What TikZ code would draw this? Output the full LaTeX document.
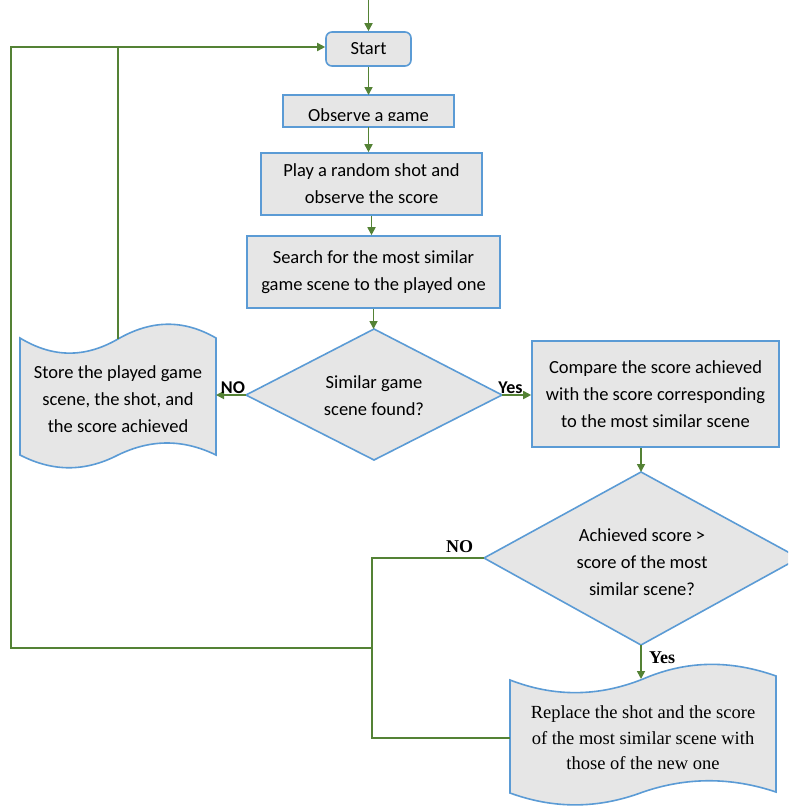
\documentclass[tikz,border=0pt]{standalone}
\usepackage{fontspec}
\setmainfont{Carlito}
\newfontfamily\serifrm{Liberation Serif}
\usetikzlibrary{arrows.meta}
\definecolor{boxfill}{HTML}{E6E6E6}
\definecolor{boxline}{HTML}{5B9BD5}
\definecolor{flow}{HTML}{548235}
\begin{document}
\begin{tikzpicture}[x=1pt,y=-1pt,
  box/.style={draw=boxline, fill=boxfill, line width=1.6pt},
  conn/.style={draw=flow, line width=1.7pt},
  arr/.style={conn, -{Triangle[length=8pt,width=8pt]}},
  txt/.style={align=center, font=\fontsize{18.5}{27}\selectfont, inner sep=0pt},
  stxt/.style={align=center, font=\serifrm\fontsize{18.5}{25.5}\selectfont, inner sep=0pt},
  rect/.style={box, inner sep=0pt, align=center, font=\fontsize{18.5}{27}\selectfont},
  lblsans/.style={font=\bfseries\fontsize{18}{20}\selectfont, inner sep=0pt},
  lblserif/.style={font=\serifrm\bfseries\fontsize{18}{20}\selectfont, inner sep=0pt}]
\useasboundingbox (0,0) rectangle (788,808);
\begin{scope}
\clip (0,0) rectangle (788,808);
% boxes
\node[rect, rounded corners=6pt, minimum width=85pt, minimum height=34pt] (start) at (368.5,49) {Start};
\node[fill=boxfill, draw=none, inner sep=0pt, outer sep=0pt, minimum width=171pt, minimum height=32pt] (obs) at (368.5,111) {};
\begin{scope}
\clip (obs.north west) rectangle ([yshift=6.7pt]obs.south east);
\node[txt, anchor=base] (obstext) at (368.5,121) {Observe a game};
\end{scope}
\draw[boxline, line width=1.6pt] (obs.north west) rectangle (obs.south east);
\node[rect, minimum width=221pt, minimum height=62pt] (play) at (371.5,184) {Play a random shot and\\observe the score};
\node[rect, minimum width=253pt, minimum height=72pt] (search) at (373.5,272) {Search for the most similar\\game scene to the played one};
\node[rect, minimum width=247pt, minimum height=106pt] (cmp) at (655.5,394) {Compare the score achieved\\with the score corresponding\\to the most similar scene};
% diamond 1
\coordinate (d1t) at (374,329);
\coordinate (d1b) at (374,460);
\coordinate (d1l) at (246,395);
\coordinate (d1r) at (502,395);
\path[box] (d1t) -- (d1r) -- (d1b) -- (d1l) -- cycle;
\node[txt] (d1text) at (374,396) {Similar game\\scene found?};
% diamond 2
\coordinate (d2t) at (641,472);
\coordinate (d2b) at (641,645);
\coordinate (d2l) at (484,558);
\coordinate (d2r) at (799,558);
\path[box] (d2t) -- (d2r) -- (d2b) -- (d2l) -- cycle;
\node[txt] (d2text) at (642,562) {Achieved score >\\score of the most\\similar scene?};
% store document
\path[box] (20,338) .. controls (53,358) and (85,358) .. (118,339) .. controls (151,320) and (183,319) .. (216,338) -- (216,455) .. controls (183,439) and (151,439) .. (118,455) .. controls (85,472) and (53,472) .. (20,455) -- cycle;
\node[txt] (store) at (118,399) {Store the played game\\scene, the shot, and\\the score achieved};
\coordinate (storetop) at (118,339);
\coordinate (storer) at (216,395);
% replace document
\path[box] (510,680) .. controls (554,697) and (598,697) .. (643,679) .. controls (687,660) and (731,660) .. (776,676) -- (776,792) .. controls (731,777) and (687,777) .. (643,792) .. controls (598,809) and (554,809) .. (510,793) -- cycle;
\node[stxt] (rep) at (643,738) {Replace the shot and the score\\of the most similar scene with\\those of the new one};
\coordinate (reptop) at (641,679);
\coordinate (repl) at (510,738);
% connectors
\coordinate (top) at (368.5,0);
\draw[arr] (top) -- (start.north);
\draw[arr] (start.south) -- (obs.north);
\draw[arr] (obs.south) -- (obs.south |- play.north);
\draw[arr] (play.south) -- (play.south |- search.north);
\draw[arr] (search.south) -- (search.south |- d1t);
\draw[arr] (d1l) -- (storer);
\draw[arr] (d1r) -- (cmp.west |- d1r);
\draw[arr] (d2t |- cmp.south) -- (d2t);
\draw[arr] (d2b) -- (reptop);
\coordinate (loopTL) at (11,47);
\coordinate (loopBL) at (11,648);
\coordinate (junc) at (372,648);
\coordinate (nocorner) at (372,558);
\draw[arr] (junc) -- (loopBL) -- (loopTL) -- (loopTL -| start.west);
\draw[conn] (storetop) -- (storetop |- loopTL);
\draw[conn] (d2l) -- (nocorner) -- (nocorner |- repl) -- (repl);
% labels
\node[lblsans] (no1) at (233,387.5) {NO};
\node[lblsans] (yes1) at (510.5,387.5) {Yes};
\node[lblserif] (no2) at (459.5,546.5) {NO};
\node[lblserif] (yes2) at (662,658) {Yes};
\end{scope}
\end{tikzpicture}
\end{document}
